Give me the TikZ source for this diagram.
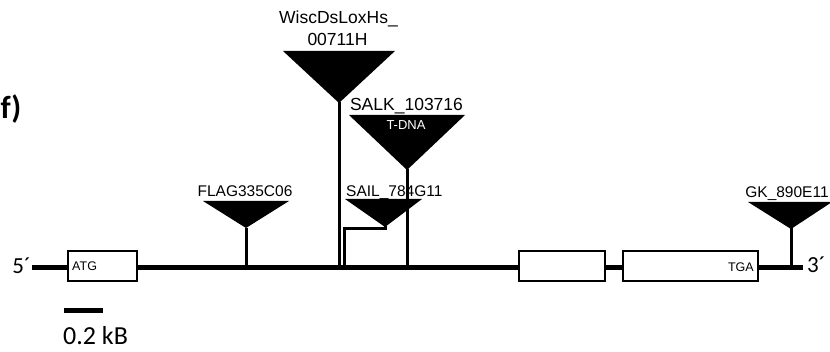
\documentclass[tikz,border=0pt]{standalone}
\usepackage{fontspec}
\setmainfont{Liberation Sans}
\newfontfamily\carlito{Carlito}
\begin{document}
\begin{tikzpicture}[x=1pt,y=-1pt,
  gene/.style={line width=5.5pt},
  stem/.style={line width=3pt},
  exon/.style={draw=black, line width=1.5pt, fill=white, inner sep=0pt, minimum height=30pt},
  tri/.style={fill=black},
  lbl/.style={font=\fontsize{15.5}{18}\selectfont, anchor=base, inner sep=0pt},
  biglbl/.style={font=\fontsize{17.5}{20}\selectfont, anchor=base, inner sep=0pt},
  boxtxt/.style={font=\fontsize{12.5}{14}\selectfont, inner sep=0pt},
  endlbl/.style={font=\carlito\fontsize{23}{26}\selectfont, anchor=base, inner sep=0pt}]
\useasboundingbox (0,0) rectangle (830,352);

% panel label
\node[font=\carlito\bfseries\fontsize{32}{36}\selectfont, anchor=base west, inner sep=0pt] (panel) at (0.5,119) {f)};

% gene backbone
\coordinate (g5) at (32,267.5);
\coordinate (g3) at (803,267.5);
\draw[gene] (g5) -- (g3);
\node[endlbl, anchor=base east] (p5) at (31,274) {5´};
\node[endlbl, anchor=base west] (p3) at (807,273) {3´};

% exons
\node[exon, minimum width=69pt] (ex1) at (102.5,266) {};
\node[exon, minimum width=86pt] (ex2) at (562,266) {};
\node[exon, minimum width=135pt] (ex3) at (690.5,266) {};
\node[boxtxt, anchor=base west] (atg) at (72,271) {ATG};
\node[boxtxt, anchor=base east] (tga) at (754,272) {TGA};

% FLAG insertion
\fill[tri] (203,201) -- (289,201) -- (246,228) -- cycle;
\coordinate (fA) at (246,228);
\coordinate (fB) at (246,267.5);
\draw[stem] (fA) -- (fB);
\node[lbl] (flag) at (245,197) {FLAG335C06};

% Wisc insertion
\fill[tri] (283,51) -- (395,51) -- (339,103) -- cycle;
\coordinate (wA) at (339,102);
\coordinate (wB) at (339,267.5);
\draw[stem] (wA) -- (wB);
\node[biglbl] (wisc1) at (338.5,23.5) {WiscDsLoxHs\_};
\node[biglbl] (wisc2) at (337.5,45.5) {00711H};

% SALK insertion
\fill[tri] (349,115) -- (465,115) -- (407,170) -- cycle;
\coordinate (kA) at (407,169);
\coordinate (kB) at (407,267.5);
\draw[stem] (kA) -- (kB);
\node[biglbl] (salk) at (406.5,111) {SALK\_103716};
\node[font=\fontsize{13}{15}\selectfont, text=white, anchor=base, inner sep=0pt] (tdna) at (406,130) {T-DNA};

% SAIL insertion
\fill[tri] (345,199) -- (422,199) -- (385,227) -- cycle;
\coordinate (sA) at (385,226);
\coordinate (sB) at (344,267.5);
\draw[stem] (sA) -- ++(0,3) -| (sB);
\node[lbl, anchor=base west] (sail) at (346,197) {SAIL\_784G11};

% GK insertion
\fill[tri] (748,202) -- (832,202) -- (791,229) -- cycle;
\coordinate (gA) at (791,228);
\coordinate (gB) at (791,267.5);
\draw[stem] (gA) -- (gB);
\node[lbl] (gk) at (787,198) {GK\_890E11};

% scale bar
\coordinate (s1) at (64,310.5);
\coordinate (s2) at (103,310.5);
\draw[line width=4.5pt] (s1) -- (s2);
\node[endlbl, font=\carlito\fontsize{26}{30}\selectfont, anchor=base west] (scale) at (63,345) {0.2 kB};
\end{tikzpicture}
\end{document}
